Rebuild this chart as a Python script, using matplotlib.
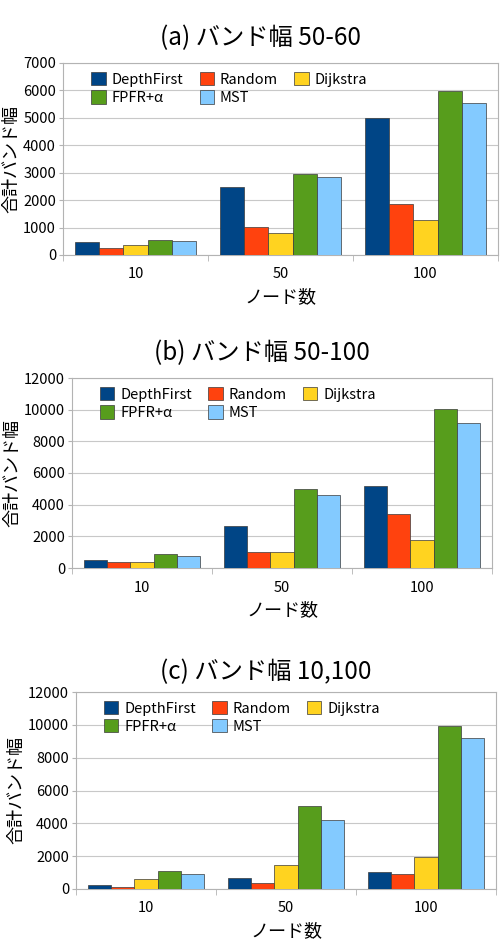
import matplotlib.pyplot as plt
import numpy as np

plt.rcParams['font.family'] = ['Noto Sans CJK JP', 'DejaVu Sans']

nodes = ['10', '50', '100']
series = ['DepthFirst', 'Random', 'Dijkstra', 'FPFR+α', 'MST']
colors = ['#004586', '#ff420e', '#ffd320', '#579d1c', '#83caff']

# values per panel, one list per series (groups 10, 50, 100)
vals_a = [
    [475, 2470, 4990],
    [256, 1020, 1875],
    [353, 815, 1265],
    [536, 2970, 5980],
    [500, 2840, 5555],
]
vals_b = [
    [528, 2680, 5175],
    [360, 1035, 3400],
    [400, 990, 1775],
    [866, 5005, 10070],
    [782, 4600, 9150],
]
vals_c = [
    [263, 648, 1050],
    [120, 364, 890],
    [607, 1437, 1963],
    [1072, 5060, 9955],
    [911, 4230, 9225],
]

titles = ['(a) バンド幅 50-60', '(b) バンド幅 50-100', '(c) バンド幅 10,100']
ymaxes = [7000, 12000, 12000]
ysteps = [1000, 2000, 2000]

# axes boxes in pixels: left, right, top, bottom
boxes = [(63, 498, 63, 255), (72, 492, 378, 568), (76, 496, 692, 889)]
title_y = [38, 353, 672]

W, H = 504, 948
fig = plt.figure(figsize=(W / 100, H / 100), dpi=100)

for k, vals in enumerate([vals_a, vals_b, vals_c]):
    l, r, t, b = boxes[k]
    ax = fig.add_axes([l / W, 1 - b / H, (r - l) / W, (b - t) / H])
    x = np.arange(len(nodes))
    bw = 0.167
    handles = []
    for i, s in enumerate(series):
        off = (i - 2) * bw
        h = ax.bar(x + off, vals[i], bw, color=colors[i], edgecolor='#3a3a3a',
                   linewidth=0.5, label=s, zorder=3)
        handles.append(h)
    ax.set_xlim(-0.5, 2.5)
    ax.set_ylim(0, ymaxes[k])
    ax.set_yticks(np.arange(0, ymaxes[k] + 1, ysteps[k]))
    ax.yaxis.grid(True, color='#c8c8c8', linewidth=0.8, zorder=0)
    ax.set_xticks(x)
    ax.set_xticklabels(nodes)
    ax.set_xticks([-0.5, 0.5, 1.5, 2.5], minor=True)
    ax.tick_params(axis='x', which='major', length=0, labelsize=10.5, pad=9)
    ax.tick_params(axis='x', which='minor', length=4, color='#b3b3b3')
    ax.tick_params(axis='y', length=3, color='#b3b3b3', labelsize=10.5, pad=2)
    for sp in ax.spines.values():
        sp.set_color('#b3b3b3')
        sp.set_linewidth(0.8)
    ax.set_xlabel('ノード数', fontsize=13, labelpad=5)
    ax.set_ylabel('合計バンド幅', fontsize=13, labelpad=2)
    order = [0, 3, 1, 4, 2]
    ax.legend([handles[j] for j in order], [series[j] for j in order],
              ncol=3, loc='upper left', bbox_to_anchor=(0.035, 1.02),
              frameon=False, fontsize=10.5, handlelength=1.0, handleheight=1.0,
              handletextpad=0.4, columnspacing=1.1, labelspacing=0.25)
    fig.text(((l + r) / 2 - 20) / W, 1 - title_y[k] / H, titles[k],
             fontsize=17.5, ha='center', va='center')

fig.savefig('out.png', dpi=100)
